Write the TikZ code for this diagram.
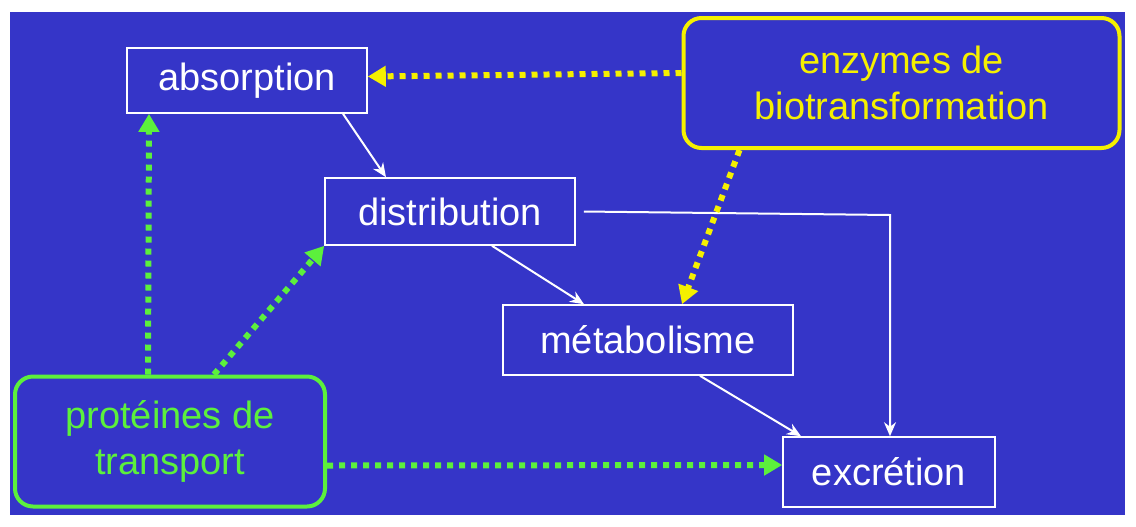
\documentclass[tikz,border=0pt]{standalone}
\usepackage{fontspec}
\setmainfont{Liberation Sans}
\usetikzlibrary{arrows.meta,calc}
\definecolor{bg}{HTML}{3535C8}
\definecolor{yel}{HTML}{F5F000}
\definecolor{grn}{HTML}{5CF03C}
\begin{document}
\begin{tikzpicture}[x=0.5pt,y=-0.5pt,
  box/.style={draw=white,line width=0.8pt,text=white,font=\fontsize{19}{22}\selectfont,inner sep=0pt},
  rbox/.style={rounded corners=9pt,line width=2pt,font=\fontsize{19}{23}\selectfont,align=center,inner sep=0pt},
  wa/.style={draw=white,line width=1pt,-{Stealth[length=7pt,width=6pt]}},
  dot/.style={line width=3pt,dash pattern=on 3pt off 3pt,-{Triangle[length=9pt,width=10pt]}}]
\useasboundingbox (0,0) rectangle (1136,526);
\fill[white] (0,0) rectangle (1136,526);
\fill[bg] (10,12) rectangle (1125,515);
\node[box,minimum width=120pt,minimum height=32.5pt] (abs) at (247,80.5) {absorption};
\node[box,minimum width=125pt,minimum height=33.5pt] (dis) at (450,211.5) {distribution};
\node[box,minimum width=145pt,minimum height=35pt] (met) at (648,340) {métabolisme};
\node[box,minimum width=106pt,minimum height=35pt] (exc) at (889,472) {excrétion};
\node[rbox,draw=yel,text=yel,minimum width=218pt,minimum height=65pt] (enz) at (901.5,83) {enzymes de\\biotransformation};
\node[rbox,draw=grn,text=grn,minimum width=155pt,minimum height=65pt] (pro) at (170,441.5) {protéines de\\transport};
\draw[wa] ([xshift=48pt]abs.south) -- ([xshift=-32pt]dis.north);
\draw[wa] ([xshift=21pt]dis.south) -- ([xshift=-32pt]met.north);
\draw[wa] ([xshift=26pt]met.south) -- ([xshift=-44pt]exc.north);
\coordinate (c1) at (890,215);
\draw[wa] ([xshift=4pt]dis.east) -- (c1) -- (c1 |- exc.north);
\draw[dot,draw=yel,yel] ([yshift=5pt]enz.west) -- ([yshift=2pt]abs.east);
\draw[dot,draw=yel,yel] ([xshift=-81pt]enz.south) -- ([xshift=17pt]met.north);
\draw[dot,draw=grn,grn] ([xshift=-11pt]pro.north) -- ([xshift=-49pt]abs.south);
\draw[dot,draw=grn,grn] ([xshift=22pt]pro.north) -- (dis.south west);
\draw[dot,draw=grn,grn] ([yshift=-12pt]pro.east) -- (exc.west |- 0,465);
\end{tikzpicture}
\end{document}
